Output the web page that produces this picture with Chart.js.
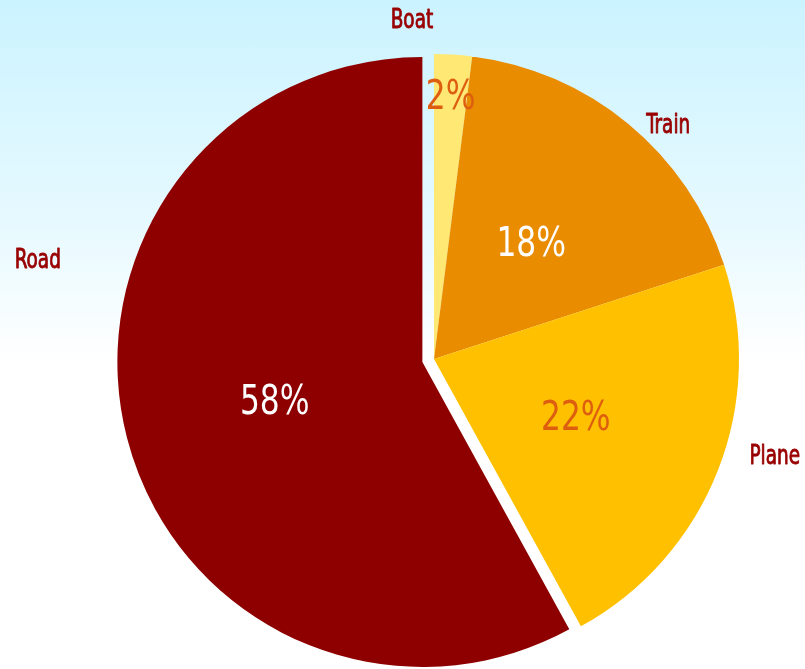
<!DOCTYPE html>
<html>
<head>
<meta charset="utf-8">
<title>Transport modes</title>
<script src="https://cdn.jsdelivr.net/npm/chart.js@4/dist/chart.umd.min.js"></script>
<style>
  html, body { margin: 0; padding: 0; }
  body {
    width: 805px; height: 669px; overflow: hidden;
    background: linear-gradient(to bottom, #CBF3FF 0px, #E6F9FF 220px, #FFFFFF 360px, #FFFFFF 669px);
  }
  canvas { display: block; }
</style>
</head>
<body>
<canvas id="chart" width="805" height="669"></canvas>
<script>
// Share of each transport mode (percent)
const categories = ['Boat', 'Train', 'Plane', 'Road'];
const shares = [2, 18, 22, 58];
const sliceColors = ['#FFE873', '#E98C00', '#FFC000', '#8E0000'];
const pctColors = ['#DE5E10', '#FFFFFF', '#DE5E10', '#FFFFFF'];

const FONT = '"DejaVu Sans Condensed", "DejaVu Sans", sans-serif';

// the largest slice is pulled out from the centre
const explodedCategory = 'Road';
const EXPLODE_PX = 12;
const explodeShift = (i) => categories[i] === explodedCategory ? EXPLODE_PX : 0;

// Where each category name sits around the pie: angle (deg, clockwise from top)
// and distance as a multiple of the pie radius.
const namePlacement = {
  Boat:  { angle: 356.3, dist: 1.12 },
  Train: { angle: 44.8,  dist: 1.09 },
  Plane: { angle: 105.6, dist: 1.16 },
  Road:  { angle: 284.2, dist: 1.34 }
};

// draw text squeezed horizontally to get a narrow face, optionally thickened
function narrowText(ctx, text, x, y, squeeze, weightPx) {
  ctx.save();
  ctx.translate(x, y);
  ctx.scale(squeeze, 1);
  ctx.fillText(text, 0, 0);
  if (weightPx) {
    ctx.lineWidth = weightPx;
    ctx.lineJoin = 'round';
    ctx.strokeStyle = ctx.fillStyle;
    ctx.strokeText(text, 0, 0);
  }
  ctx.restore();
}

// draws the arcs, moving the exploded slice outward along its mid-angle
const explodeSlices = {
  id: 'explodeSlices',
  beforeDatasetDraw(chart, args) {
    const ctx = chart.ctx;
    args.meta.data.forEach((arc, i) => {
      const shift = explodeShift(i);
      const mid = (arc.startAngle + arc.endAngle) / 2;
      ctx.save();
      ctx.translate(Math.cos(mid) * shift, Math.sin(mid) * shift);
      arc.draw(ctx, chart.chartArea);
      ctx.restore();
    });
    return false;
  }
};

const sliceLabels = {
  id: 'sliceLabels',
  afterDatasetsDraw(chart) {
    const ctx = chart.ctx;
    const meta = chart.getDatasetMeta(0);
    const total = shares.reduce((a, b) => a + b, 0);
    ctx.save();
    ctx.textAlign = 'center';
    ctx.textBaseline = 'alphabetic';
    meta.data.forEach((arc, i) => {
      const p = arc.getProps(['x', 'y', 'startAngle', 'endAngle', 'outerRadius'], true);
      const mid = (p.startAngle + p.endAngle) / 2;
      const shift = explodeShift(i);
      const cx = p.x + Math.cos(mid) * shift;
      const cy = p.y + Math.sin(mid) * shift;
      const frac = shares[i] / total;
      // thin slices get their value pushed out toward the rim
      const r = p.outerRadius * (frac < 0.05 ? 0.867 : 0.5);
      const px = cx + Math.cos(mid) * r;
      const py = cy + Math.sin(mid) * r;
      const pctSize = 40;
      ctx.font = `${pctSize}px ${FONT}`;
      ctx.fillStyle = pctColors[i];
      narrowText(ctx, Math.round(frac * 100) + '%', px, py + pctSize * 0.36, 0.87, 0);

      // category name outside the pie
      const place = namePlacement[categories[i]];
      const a = place.angle * Math.PI / 180;
      const nx = p.x + Math.sin(a) * p.outerRadius * place.dist;
      const ny = p.y - Math.cos(a) * p.outerRadius * place.dist;
      const nameSize = 27;
      ctx.font = `${nameSize}px ${FONT}`;
      ctx.fillStyle = '#990000';
      narrowText(ctx, categories[i], nx, ny + nameSize * 0.36, 0.76, 0.9);
    });
    ctx.restore();
  }
};

new Chart(document.getElementById('chart'), {
  type: 'pie',
  data: {
    labels: categories,
    datasets: [{
      data: shares,
      backgroundColor: sliceColors,
      borderWidth: 0,
      hoverOffset: 0
    }]
  },
  options: {
    responsive: false,
    animation: false,
    radius: 305,
    layout: { padding: { left: 63, right: 0, top: 49, bottom: 0 } },
    plugins: {
      legend: { display: false },
      tooltip: { enabled: false }
    },
    events: []
  },
  plugins: [explodeSlices, sliceLabels]
});
</script>
</body>
</html>
